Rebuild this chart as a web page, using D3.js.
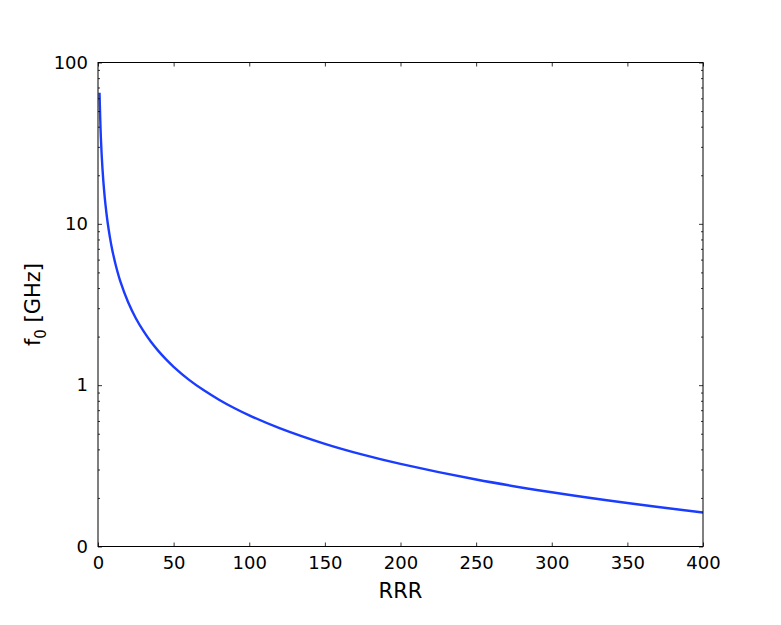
<!DOCTYPE html>
<html>
<head>
<meta charset="utf-8">
<script src="https://cdn.jsdelivr.net/npm/d3@7"></script>
<style>
  body { margin: 0; background: #fff; }
  text { font-family: "DejaVu Sans", sans-serif; fill: #000; }
</style>
</head>
<body>
<svg id="chart" width="781" height="625"></svg>
<script>
// Data
const rrr = [1, 2, 3, 4, 5, 6, 7, 8, 9, 10, 12, 15, 20, 25, 30, 35, 40, 45, 50, 60, 70, 80, 90, 100, 120, 150, 175, 200, 250, 300, 350, 400];
const f0  = [65, 32.5, 21.7, 16.25, 13, 10.83, 9.29, 8.13, 7.22, 6.5, 5.42, 4.33, 3.25, 2.6, 2.17, 1.857, 1.625, 1.444, 1.3, 1.083, 0.929, 0.813, 0.722, 0.65, 0.542, 0.433, 0.371, 0.325, 0.26, 0.217, 0.186, 0.1625];
const xTicks = [0, 50, 100, 150, 200, 250, 300, 350, 400];
const yTicks = [0.1, 1, 10, 100];
const yTickLabels = ["0", "1", "10", "100"];
const xLabel = "RRR";

const svg = d3.select("#chart");
const L = 98, R = 703, T = 62.5, B = 546.5;

const x = d3.scaleLinear().domain([0, 400]).range([L, R]);
const y = d3.scaleLog().domain([0.1, 100]).range([B, T]);

const minors = [];
for (let d = 0.1; d < 100; d *= 10) for (let k = 2; k <= 9; k++) minors.push(+(d * k).toPrecision(3));

const g = svg.append("g");

svg.append("clipPath").attr("id", "clip").append("rect")
  .attr("x", L).attr("y", T).attr("width", R - L).attr("height", B - T);

const data = rrr.map((r, i) => ({ r, v: f0[i] }));
g.append("path").datum(data)
  .attr("clip-path", "url(#clip)")
  .attr("fill", "none").attr("stroke", "#1a3cff").attr("stroke-width", 2.4)
  .attr("stroke-linejoin", "round")
  .attr("d", d3.line().x(d => x(d.r)).y(d => y(d.v)).curve(d3.curveCatmullRom.alpha(0.5)));

const fmtY = (d) => yTickLabels[yTicks.indexOf(d)];
const axL = g.append("g").attr("transform", `translate(${L},0)`)
  .call(d3.axisLeft(y).tickValues(yTicks).tickFormat(fmtY).tickSize(-4).tickPadding(10));
const axLm = g.append("g").attr("transform", `translate(${L},0)`)
  .call(d3.axisLeft(y).tickValues(minors).tickFormat("").tickSize(-2));
const axR = g.append("g").attr("transform", `translate(${R},0)`)
  .call(d3.axisRight(y).tickValues(yTicks).tickFormat("").tickSize(-4));
const axRm = g.append("g").attr("transform", `translate(${R},0)`)
  .call(d3.axisRight(y).tickValues(minors).tickFormat("").tickSize(-2));
const axB = g.append("g").attr("transform", `translate(0,${B})`)
  .call(d3.axisBottom(x).tickValues(xTicks).tickFormat(d3.format("d")).tickSize(-4).tickPadding(10));
const axT = g.append("g").attr("transform", `translate(0,${T})`)
  .call(d3.axisTop(x).tickValues(xTicks).tickFormat("").tickSize(-4));

[axL, axLm, axR, axRm, axB, axT].forEach(a => {
  a.select(".domain").remove();
  a.selectAll("line").attr("stroke", "#000").attr("stroke-width", 0.8);
});
[axL, axB].forEach(a => a.selectAll("text").attr("font-size", 18).attr("font-family", "DejaVu Sans"));
axB.selectAll("text").attr("dy", "0.72em");

g.append("rect").attr("x", L).attr("y", T).attr("width", R - L).attr("height", B - T)
  .attr("fill", "none").attr("stroke", "#000").attr("stroke-width", 1);

svg.append("text").attr("x", (L + R) / 2).attr("y", 598).attr("text-anchor", "middle")
  .attr("font-size", 21).text(xLabel);
const yl = svg.append("text").attr("transform", `translate(40,${(T + B) / 2}) rotate(-90)`)
  .attr("text-anchor", "middle").attr("font-size", 21);
yl.append("tspan").text("f");
yl.append("tspan").attr("font-size", 15).attr("dy", 6).text("0");
yl.append("tspan").attr("dy", -6).text(" [GHz]");
</script>
</body>
</html>
